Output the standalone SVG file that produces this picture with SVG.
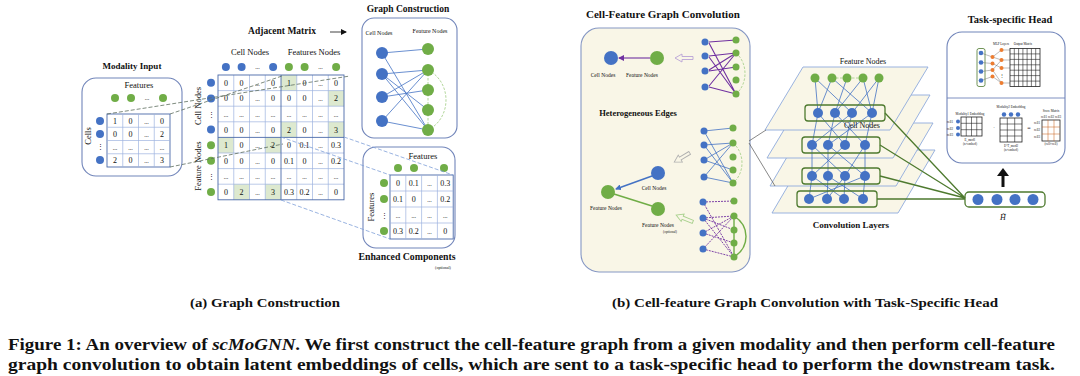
<svg xmlns="http://www.w3.org/2000/svg" width="1080" height="376" viewBox="0 0 1080 376">
<style>
text{font-family:"Liberation Serif","DejaVu Serif",serif;fill:#111}
.b{font-weight:bold}
.bn{fill:#4472c4}
.gn{fill:#70ad47}
.on{fill:#ed7d31}
.box{fill:#fff;stroke:#7185ba;stroke-width:1.1}
.cream{fill:#f9f6e7;stroke:#8597c4;stroke-width:1.1}
.grid{stroke:#4a69a8;stroke-width:0.9;fill:none}
.gridl{stroke:#9db3e0;stroke-width:0.7;fill:none}
.hl{fill:#dde9cf}
.num{font-size:8px;text-anchor:middle}
.dsh{stroke:#5e6e60;stroke-width:0.8;stroke-dasharray:4 2;fill:none}
.dshb{stroke:#7f9fd8;stroke-width:0.8;stroke-dasharray:4 2;fill:none}
.be{stroke:#4472c4;stroke-width:0.8;fill:none}
.pe{stroke:#7030a0;stroke-width:1.1;fill:none}
.pd{stroke:#7030a0;stroke-width:0.9;stroke-dasharray:2 1;fill:none}
.ga{stroke:#a9d18e;stroke-width:0.9;stroke-dasharray:2.5 1.5;fill:none}
.plane{fill:#f9f6e7;stroke:#8faadc;stroke-width:0.9}
.gbox{fill:none;stroke:#4e7a2f;stroke-width:1.3}
.gl{stroke:#4e7a2f;stroke-width:1.3;fill:none}
.tiny{font-size:3.2px}
</style>
<defs>
<marker id="ap" markerWidth="6" markerHeight="6" refX="5" refY="3" orient="auto" markerUnits="userSpaceOnUse"><path d="M0,0 L6,3 L0,6 Z" fill="#7030a0"/></marker>
<marker id="ab" markerWidth="6" markerHeight="6" refX="5" refY="3" orient="auto" markerUnits="userSpaceOnUse"><path d="M0,0 L6,3 L0,6 Z" fill="#4472c4"/></marker>
<marker id="ak" markerWidth="6" markerHeight="6" refX="5" refY="3" orient="auto" markerUnits="userSpaceOnUse"><path d="M0,0 L6,3 L0,6 Z" fill="#111"/></marker>
</defs>
<rect width="1080" height="376" fill="#fff"/>

<!-- Modality input -->
<g id="modality-input">
<text class="b" x="132" y="69" font-size="9" text-anchor="middle">Modality Input</text>
<rect class="box" x="82" y="78" width="100" height="98" rx="14"/>
<text x="139" y="88" font-size="8.5" text-anchor="middle">Features</text>
<circle class="gn" cx="115" cy="98" r="4"/><circle class="gn" cx="131" cy="98" r="4"/><circle class="gn" cx="163" cy="98" r="4"/>
<text x="147" y="100" font-size="6" text-anchor="middle">...</text>
<circle class="bn" cx="100" cy="121" r="4"/><circle class="bn" cx="100" cy="134" r="4"/><circle class="bn" cx="100" cy="160" r="4"/>
<text x="100" y="149" font-size="7" text-anchor="middle">⋮</text>
<text transform="translate(91,136) rotate(-90)" font-size="8.5" text-anchor="middle">Cells</text>
<rect class="grid" x="107" y="114" width="63" height="53"/>
<path class="gridl" d="M122.75,114V167M138.5,114V167M154.25,114V167M107,127.25H170M107,140.5H170M107,153.75H170"/>
<g class="num">
<text y="123.6"><tspan x="114.9">1</tspan><tspan x="130.6">0</tspan><tspan x="146.4" font-size="6">...</tspan><tspan x="162.1">0</tspan></text>
<text y="136.9"><tspan x="114.9">0</tspan><tspan x="130.6">0</tspan><tspan x="146.4" font-size="6">...</tspan><tspan x="162.1">2</tspan></text>
<text y="149.5" font-size="6"><tspan x="114.9">...</tspan><tspan x="130.6">...</tspan><tspan x="146.4">...</tspan><tspan x="162.1">...</tspan></text>
<text y="163.4"><tspan x="114.9">2</tspan><tspan x="130.6">0</tspan><tspan x="146.4" font-size="6">...</tspan><tspan x="162.1">3</tspan></text>
</g>
</g>

<!-- Adjacency matrix -->
<g id="adjacent-matrix">
<text class="b" x="282" y="34" font-size="9.5" text-anchor="middle">Adjacent Matrix</text>
<text x="250" y="55" font-size="8.5" text-anchor="middle">Cell Nodes</text>
<text x="314" y="55" font-size="8.5" text-anchor="middle">Features Nodes</text>
<circle class="bn" cx="225.9" cy="67" r="4"/><circle class="bn" cx="241.6" cy="67" r="4"/><circle class="bn" cx="273.1" cy="67" r="4"/>
<circle class="gn" cx="288.9" cy="67" r="4"/><circle class="gn" cx="304.6" cy="67" r="4"/><circle class="gn" cx="336.1" cy="67" r="4"/>
<text x="257.4" y="69" font-size="6" text-anchor="middle">...</text><text x="320.4" y="69" font-size="6" text-anchor="middle">...</text>
<circle class="bn" cx="211" cy="82.8" r="4"/><circle class="bn" cx="211" cy="98.4" r="4"/><circle class="bn" cx="211" cy="129.6" r="4"/>
<circle class="gn" cx="211" cy="145.2" r="4"/><circle class="gn" cx="211" cy="160.8" r="4"/><circle class="gn" cx="211" cy="192" r="4"/>
<text x="211" y="117" font-size="7" text-anchor="middle">⋮</text><text x="211" y="179" font-size="7" text-anchor="middle">⋮</text>
<text transform="translate(201,106) rotate(-90)" font-size="8.5" text-anchor="middle">Cell Nodes</text>
<text transform="translate(201,166) rotate(-90)" font-size="8.5" text-anchor="middle">Feature Nodes</text>
<rect class="hl" x="281" y="75" width="15.75" height="15.6"/>
<rect class="hl" x="328.25" y="90.6" width="15.75" height="15.6"/>
<rect class="hl" x="281" y="121.8" width="15.75" height="15.6"/>
<rect class="hl" x="328.25" y="121.8" width="15.75" height="15.6"/>
<rect class="hl" x="218" y="137.4" width="15.75" height="15.6"/>
<rect class="hl" x="265.25" y="137.4" width="15.75" height="15.6"/>
<rect class="hl" x="233.75" y="184.2" width="15.75" height="15.6"/>
<rect class="hl" x="265.25" y="184.2" width="15.75" height="15.6"/>
<path class="gridl" d="M233.75,75V199.8M249.5,75V199.8M265.25,75V199.8M296.75,75V199.8M312.5,75V199.8M328.25,75V199.8M218,90.6H344M218,106.2H344M218,121.8H344M218,153H344M218,168.6H344M218,184.2H344"/>
<rect class="grid" x="218" y="75" width="126" height="124.8"/>
<path class="grid" d="M281,75V199.8M218,137.4H344" stroke-width="1.2"/>
<g class="num">
<text y="85.8"><tspan x="225.9">0</tspan><tspan x="241.6">0</tspan><tspan x="257.4" font-size="6">...</tspan><tspan x="273.1">0</tspan><tspan x="288.9">1</tspan><tspan x="304.6">0</tspan><tspan x="320.4" font-size="6">...</tspan><tspan x="336.1">0</tspan></text>
<text y="101.4"><tspan x="225.9">0</tspan><tspan x="241.6">0</tspan><tspan x="257.4" font-size="6">...</tspan><tspan x="273.1">0</tspan><tspan x="288.9">0</tspan><tspan x="304.6">0</tspan><tspan x="320.4" font-size="6">...</tspan><tspan x="336.1">2</tspan></text>
<text y="117" font-size="6"><tspan x="225.9">...</tspan><tspan x="241.6">...</tspan><tspan x="257.4">...</tspan><tspan x="273.1">...</tspan><tspan x="288.9">...</tspan><tspan x="304.6">...</tspan><tspan x="320.4">...</tspan><tspan x="336.1">...</tspan></text>
<text y="132.6"><tspan x="225.9">0</tspan><tspan x="241.6">0</tspan><tspan x="257.4" font-size="6">...</tspan><tspan x="273.1">0</tspan><tspan x="288.9">2</tspan><tspan x="304.6">0</tspan><tspan x="320.4" font-size="6">...</tspan><tspan x="336.1">3</tspan></text>
<text y="148.2"><tspan x="225.9">1</tspan><tspan x="241.6">0</tspan><tspan x="257.4" font-size="6">...</tspan><tspan x="273.1">2</tspan><tspan x="288.9">0</tspan><tspan x="304.6">0.1</tspan><tspan x="320.4" font-size="6">...</tspan><tspan x="336.1">0.3</tspan></text>
<text y="163.8"><tspan x="225.9">0</tspan><tspan x="241.6">0</tspan><tspan x="257.4" font-size="6">...</tspan><tspan x="273.1">0</tspan><tspan x="288.9">0.1</tspan><tspan x="304.6">0</tspan><tspan x="320.4" font-size="6">...</tspan><tspan x="336.1">0.2</tspan></text>
<text y="179.4" font-size="6"><tspan x="225.9">...</tspan><tspan x="241.6">...</tspan><tspan x="257.4">...</tspan><tspan x="273.1">...</tspan><tspan x="288.9">...</tspan><tspan x="304.6">...</tspan><tspan x="320.4">...</tspan><tspan x="336.1">...</tspan></text>
<text y="195"><tspan x="225.9">0</tspan><tspan x="241.6">2</tspan><tspan x="257.4" font-size="6">...</tspan><tspan x="273.1">3</tspan><tspan x="288.9">0.3</tspan><tspan x="304.6">0.2</tspan><tspan x="320.4" font-size="6">...</tspan><tspan x="336.1">0</tspan></text>
</g>
</g>

<!-- Graph construction -->
<g id="graph-construction">
<text class="b" x="408" y="12" font-size="9.5" text-anchor="middle">Graph Construction</text>
<rect class="box" x="362" y="18" width="95" height="120" rx="12"/>
<text x="379" y="35" font-size="6" text-anchor="middle">Cell Nodes</text>
<text x="430" y="33" font-size="6" text-anchor="middle">Feature Nodes</text>
<path class="be" d="M382,53L428,49M382,53L428,130M382,74L428,70M382,74L428,130M382,97L428,70M382,97L428,90M382,121L428,70M382,121L428,130M382,74L428,110"/>
<path class="ga" d="M428,70V130M428,70C452,82 452,118 428,130"/>
<circle class="bn" cx="382" cy="53" r="6"/><circle class="bn" cx="382" cy="74" r="6"/><circle class="bn" cx="382" cy="97" r="6"/><circle class="bn" cx="382" cy="121" r="6"/>
<circle class="gn" cx="428" cy="49" r="6"/><circle class="gn" cx="428" cy="70" r="6"/><circle class="gn" cx="428" cy="90" r="6"/><circle class="gn" cx="428" cy="110" r="6"/><circle class="gn" cx="428" cy="130" r="6"/>
</g>

<!-- Enhanced components -->
<g id="enhanced-components">
<rect class="box" x="363" y="147" width="92" height="101" rx="13"/>
<text x="423" y="159" font-size="8.5" text-anchor="middle">Features</text>
<circle class="gn" cx="398" cy="168" r="4"/><circle class="gn" cx="414" cy="168" r="4"/><circle class="gn" cx="444" cy="168" r="4"/>
<circle class="gn" cx="384" cy="183" r="4"/><circle class="gn" cx="384" cy="199" r="4"/><circle class="gn" cx="384" cy="231" r="4"/>
<text x="384" y="218" font-size="7" text-anchor="middle">⋮</text>
<text transform="translate(374,207) rotate(-90)" font-size="8.5" text-anchor="middle">Features</text>
<rect class="grid" x="390" y="175" width="63.2" height="64"/>
<path class="gridl" d="M405.8,175V239M421.6,175V239M437.4,175V239M390,191H453.2M390,207H453.2M390,223H453.2"/>
<g class="num">
<text y="186"><tspan x="397.9">0</tspan><tspan x="413.7">0.1</tspan><tspan x="429.5" font-size="6">...</tspan><tspan x="445.3">0.3</tspan></text>
<text y="202"><tspan x="397.9">0.1</tspan><tspan x="413.7">0</tspan><tspan x="429.5" font-size="6">...</tspan><tspan x="445.3">0.2</tspan></text>
<text y="218" font-size="6"><tspan x="397.9">...</tspan><tspan x="413.7">...</tspan><tspan x="429.5">...</tspan><tspan x="445.3">...</tspan></text>
<text y="234"><tspan x="397.9">0.3</tspan><tspan x="413.7">0.2</tspan><tspan x="429.5" font-size="6">...</tspan><tspan x="445.3">0</tspan></text>
</g>
<text class="b" x="407" y="260" font-size="9.8" text-anchor="middle">Enhanced Components</text>
<text x="443" y="269" font-size="4" text-anchor="middle">(optional)</text>
</g>

<!-- Cell-feature graph convolution -->
<g id="cell-feature-conv">
<text class="b" x="586" y="18" font-size="11">Cell-Feature Graph Convolution</text>
<rect class="cream" x="581" y="28" width="169" height="244" rx="18"/>
<line class="pe" x1="650" y1="58" x2="619" y2="58" marker-end="url(#ap)"/>
<circle class="bn" cx="611" cy="58" r="7"/><circle class="gn" cx="657" cy="58" r="7"/>
<text x="603" y="77" font-size="5.5" text-anchor="middle">Cell Nodes</text>
<text x="642" y="77" font-size="5.5" text-anchor="middle">Feature Nodes</text>
<path d="M693,56.5H682V54L675,58L682,62V59.5H693Z" fill="none" stroke="#b9a3d6" stroke-width="0.9"/>
<text class="b" x="638" y="116" font-size="8.5" text-anchor="middle">Heterogeneous Edges</text>
<!-- top subgraph -->
<path class="pe" stroke-width="0.9" d="M736,40L709,42M736,94L709,43M736,53L709,56M736,94L709,57M736,53L709,70M736,67L709,71M736,53L709,86M736,94L709,87"/>
<path class="ga" d="M736,53C748,63 748,84 736,94"/>
<circle class="bn" cx="705" cy="42" r="3.5"/><circle class="bn" cx="705" cy="56" r="3.5"/><circle class="bn" cx="705" cy="71" r="3.5"/><circle class="bn" cx="705" cy="87" r="3.5"/>
<circle class="gn" cx="736" cy="40" r="3.5"/><circle class="gn" cx="736" cy="53" r="3.5"/><circle class="gn" cx="736" cy="67" r="3.5"/><circle class="gn" cx="736" cy="80" r="3.5"/><circle class="gn" cx="736" cy="94" r="3.5"/>
<!-- middle subgraph -->
<path class="be" stroke-width="1" d="M704,131L733,128M704,131L733,183M704,145L733,143M704,145L733,183M704,160L733,143M704,160L733,170M704,177L733,143M704,177L733,183"/>
<path class="ga" d="M733,143C745,153 745,173 733,183"/>
<circle class="bn" cx="704" cy="131" r="3.5"/><circle class="bn" cx="704" cy="145" r="3.5"/><circle class="bn" cx="704" cy="160" r="3.5"/><circle class="bn" cx="704" cy="177" r="3.5"/>
<circle class="gn" cx="733" cy="128" r="3.5"/><circle class="gn" cx="733" cy="143" r="3.5"/><circle class="gn" cx="733" cy="157" r="3.5"/><circle class="gn" cx="733" cy="170" r="3.5"/><circle class="gn" cx="733" cy="183" r="3.5"/>
<path transform="translate(682,157.5) rotate(-31)" d="M9,-1.6H-2V-4L-9,0L-2,4V1.6H9Z" fill="none" stroke="#b0b0b0" stroke-width="0.9"/>
<line x1="652" y1="206" x2="614" y2="194" stroke="#70ad47" stroke-width="1.5"/>
<line x1="652" y1="176" x2="616" y2="189" stroke="#4472c4" stroke-width="1.5" marker-end="url(#ab)"/>
<circle class="bn" cx="658" cy="173" r="7"/><circle class="gn" cx="608" cy="192" r="7"/><circle class="gn" cx="658" cy="209" r="7"/>
<text x="654" y="190" font-size="5.5" text-anchor="middle">Cell Nodes</text>
<text x="606" y="210" font-size="5.5" text-anchor="middle">Feature Nodes</text>
<text x="658" y="227" font-size="5.5" text-anchor="middle">Feature Nodes</text>
<text x="670" y="233" font-size="3.5" text-anchor="middle">(optional)</text>
<path transform="translate(684.5,218.5) rotate(22)" d="M9,-1.6H-2V-4L-9,0L-2,4V1.6H9Z" fill="none" stroke="#a9d18e" stroke-width="0.9"/>
<!-- bottom subgraph -->
<path class="pd" d="M703,202L734,201M703,202L734,257M703,218L734,216M703,218L734,257M703,233L734,216M703,233L734,243M703,249L734,216M703,249L734,257M703,218L734,230"/>
<path d="M734,216V257M734,216C750,226 750,247 734,257" fill="none" stroke="#70ad47" stroke-width="1.4"/>
<circle class="bn" cx="703" cy="202" r="3.5"/><circle class="bn" cx="703" cy="218" r="3.5"/><circle class="bn" cx="703" cy="233" r="3.5"/><circle class="bn" cx="703" cy="249" r="3.5"/>
<circle class="gn" cx="734" cy="201" r="3.5"/><circle class="gn" cx="734" cy="216" r="3.5"/><circle class="gn" cx="734" cy="230" r="3.5"/><circle class="gn" cx="734" cy="243" r="3.5"/><circle class="gn" cx="734" cy="257" r="3.5"/>
</g>

<!-- Convolution layers -->
<g id="convolution-layers">
<text x="863" y="64" font-size="8" text-anchor="middle">Feature Nodes</text>
<polygon class="plane" points="809,150 935,150 898,213 772,213"/>
<polygon class="plane" points="807,123 933,123 896,186 770,186"/>
<polygon class="plane" points="805,95 930,95 893,158 767,158"/>
<polygon class="plane" points="803,67 928,67 890,130 765,130"/>
<path class="be" stroke-width="0.6" d="M815,78L818,113M815,78L852,113M832,78L818,113M832,78L872,113M847,78L835,113M863,78L835,113M863,78L872,113M879,78L852,113M879,78L872,113
M818,113L812,145M818,113L845,145M835,113L828,145M835,113L865,145M852,113L812,145M852,113L845,145M872,113L828,145M872,113L865,145
M812,145L812,176M812,145L845,176M828,145L828,176M828,145L865,176M845,145L812,176M865,145L845,176M865,145L865,176
M812,176L809,199M812,176L844,199M828,176L827,199M828,176L863,199M845,176L827,199M845,176L844,199M865,176L809,199M865,176L863,199"/>
<path class="ga" d="M832,78H863"/>
<circle class="gn" cx="815" cy="78" r="4.5"/><circle class="gn" cx="832" cy="78" r="4.5"/><circle class="gn" cx="847" cy="78" r="4.5"/><circle class="gn" cx="863" cy="78" r="4.5"/><circle class="gn" cx="879" cy="78" r="4.5"/>
<rect class="gbox" x="805" y="105" width="80" height="16" rx="3"/>
<circle class="bn" cx="818" cy="113" r="5"/><circle class="bn" cx="835" cy="113" r="5"/><circle class="bn" cx="852" cy="113" r="5"/><circle class="bn" cx="872" cy="113" r="5"/>
<text x="862" y="128" font-size="8" text-anchor="middle">Cell Nodes</text>
<rect class="gbox" x="802" y="137" width="78" height="16" rx="3"/>
<circle class="bn" cx="812" cy="145" r="5"/><circle class="bn" cx="828" cy="145" r="5"/><circle class="bn" cx="845" cy="145" r="5"/><circle class="bn" cx="865" cy="145" r="5"/>
<rect class="gbox" x="802" y="168" width="78" height="16" rx="3"/>
<circle class="bn" cx="812" cy="176" r="5"/><circle class="bn" cx="828" cy="176" r="5"/><circle class="bn" cx="845" cy="176" r="5"/><circle class="bn" cx="865" cy="176" r="5"/>
<rect class="gbox" x="797" y="191" width="80" height="16" rx="3"/>
<circle class="bn" cx="809" cy="199" r="5"/><circle class="bn" cx="827" cy="199" r="5"/><circle class="bn" cx="844" cy="199" r="5"/><circle class="bn" cx="863" cy="199" r="5"/>
<text class="b" x="851" y="228" font-size="9" text-anchor="middle">Convolution Layers</text>
</g>

<!-- H tilde -->
<g id="h-tilde">
<rect class="gbox" x="965" y="192" width="80" height="15" rx="4"/>
<circle class="bn" cx="978" cy="199.5" r="5.5"/><circle class="bn" cx="997" cy="199.5" r="5.5"/><circle class="bn" cx="1015" cy="199.5" r="5.5"/><circle class="bn" cx="1033" cy="199.5" r="5.5"/>
<text x="1003" y="220" font-size="8" text-anchor="middle" font-style="italic">H̃</text>
</g>

<!-- Task-specific head -->
<g id="task-head">
<text class="b" x="1010" y="23" font-size="10.5" text-anchor="middle">Task-specific Head</text>
<rect class="box" x="947" y="32" width="118" height="131" rx="15"/>
<line x1="947" y1="98" x2="1065" y2="98" stroke="#7185ba" stroke-width="0.9"/>
<text class="tiny" x="1001" y="45" text-anchor="middle">MLP Layers</text>
<text class="tiny" x="1023" y="45" text-anchor="middle">Output Matrix</text>
<rect x="977" y="48.5" width="8" height="38" rx="2" fill="none" stroke="#4e7a2f" stroke-width="0.8"/>
<path stroke="#555" stroke-width="0.4" fill="none" d="M981,53L992.5,57M981,62.5L992.5,63.5M981,71.5L992.5,70M981,80.5L992.5,76.5M992.5,57L1001.5,50M992.5,57L1001.5,60M992.5,63.5L1001.5,68M992.5,70L1001.5,60M992.5,76.5L1001.5,83M992.5,70L1001.5,83M1001.5,50H1010M1001.5,60H1010M1001.5,68H1010M1001.5,83H1010"/>
<circle class="bn" cx="981" cy="53" r="2.3"/><circle class="bn" cx="981" cy="62.5" r="2.3"/><circle class="bn" cx="981" cy="71.5" r="2.3"/><circle class="bn" cx="981" cy="80.5" r="2.3"/>
<circle class="on" cx="992.5" cy="57" r="2"/><circle class="on" cx="992.5" cy="63.5" r="2"/><circle class="on" cx="992.5" cy="70" r="2"/><circle class="on" cx="992.5" cy="76.5" r="2"/>
<circle class="on" cx="1001.5" cy="50" r="2"/><circle class="on" cx="1001.5" cy="60" r="2"/><circle class="on" cx="1001.5" cy="68" r="2"/><circle class="on" cx="1001.5" cy="83" r="2"/>
<text x="1001.5" y="77" font-size="4" text-anchor="middle">⋮</text>
<rect x="1010" y="48.5" width="30" height="38" fill="none" stroke="#222" stroke-width="0.8"/>
<path stroke="#222" stroke-width="0.6" fill="none" d="M1014.3,48.5V86.5M1018.6,48.5V86.5M1022.9,48.5V86.5M1027.1,48.5V86.5M1031.4,48.5V86.5M1035.7,48.5V86.5M1010,53.9H1040M1010,59.4H1040M1010,64.8H1040M1010,70.2H1040M1010,75.6H1040M1010,81.1H1040"/>
<text class="tiny" x="970" y="115" text-anchor="middle">Modality1 Embedding</text>
<text class="tiny" x="950" y="123" text-anchor="middle">cell1</text><text class="tiny" x="950" y="129.5" text-anchor="middle">cell2</text><text class="tiny" x="950" y="136" text-anchor="middle">cell3</text>
<circle class="bn" cx="958" cy="121.5" r="2"/><circle class="bn" cx="958" cy="128" r="2"/><circle class="bn" cx="958" cy="134.5" r="2"/>
<rect x="961" y="117" width="21" height="19" fill="none" stroke="#222" stroke-width="0.8"/>
<path stroke="#222" stroke-width="0.6" fill="none" d="M966.25,117V136M971.5,117V136M976.75,117V136M961,123.3H982M961,129.7H982"/>
<text class="tiny" x="970" y="141" text-anchor="middle">E_mod1</text>
<text class="tiny" x="970" y="145" text-anchor="middle">(n×embed)</text>
<text x="994" y="129" font-size="5" text-anchor="middle">·</text>
<text class="tiny" x="1011" y="108" text-anchor="middle">Modality2 Embedding</text>
<circle class="bn" cx="1004" cy="114.5" r="2.2"/><circle class="bn" cx="1011" cy="114.5" r="2.2"/><circle class="bn" cx="1018" cy="114.5" r="2.2"/>
<rect x="1000" y="118" width="22" height="24" fill="none" stroke="#222" stroke-width="0.8"/>
<path stroke="#222" stroke-width="0.6" fill="none" d="M1007.3,118V142M1014.7,118V142M1000,124H1022M1000,130H1022M1000,136H1022"/>
<text class="tiny" x="1011" y="147" text-anchor="middle">E^T_mod2</text>
<text class="tiny" x="1011" y="151" text-anchor="middle">(n×embed)</text>
<text x="1029" y="130" font-size="6" text-anchor="middle">=</text>
<text class="tiny" x="1051" y="112" text-anchor="middle">Score Matrix</text>
<text class="tiny" x="1051" y="118" text-anchor="middle">cell1 cell2 cell3</text>
<text class="tiny" x="1037" y="124" text-anchor="middle">cell1</text><text class="tiny" x="1037" y="131" text-anchor="middle">cell2</text><text class="tiny" x="1037" y="138" text-anchor="middle">cell3</text>
<rect x="1042" y="120" width="18" height="21" fill="none" stroke="#222" stroke-width="0.8"/>
<path stroke="#c55a11" stroke-width="0.5" fill="none" d="M1048,120V141M1054,120V141M1042,127H1060M1042,134H1060"/>
<text class="tiny" x="1051" y="145" text-anchor="middle">(cell×cell)</text>
</g>

<!-- connectors -->
<g id="connectors">
<path class="dsh" d="M107,114L350,76M170,114L282,76M170,167L283,144"/>
<path class="dshb" d="M344,137L453,175M281,137L390,175M281,200L390,239"/>
<line x1="330" y1="32" x2="346" y2="32" stroke="#111" stroke-width="0.8" marker-end="url(#ak)"/>
<path d="M749,141L766,130M749,143L775,186" stroke="#555" stroke-width="0.7" fill="none"/>
<path class="gl" d="M885,113L965,198M880,145L965,198M880,176L965,198M877,199L965,199"/>
<line x1="1003" y1="187" x2="1003" y2="175" stroke="#111" stroke-width="3"/>
<path d="M997,176L1003,168L1009,176Z" fill="#111"/>
</g>

<!-- captions -->
<g id="captions">
<text x="190" y="307" font-size="12.5" font-weight="bold" textLength="150" lengthAdjust="spacingAndGlyphs">(a) Graph Construction</text>
<text x="612" y="307" font-size="12.5" font-weight="bold" textLength="386" lengthAdjust="spacingAndGlyphs">(b) Cell-feature Graph Convolution with Task-Specific Head</text>
<text x="8" y="349.5" font-size="16" font-weight="bold" textLength="1047" lengthAdjust="spacingAndGlyphs">Figure 1: An overview of <tspan font-style="italic">scMoGNN</tspan>. We first construct the cell-feature graph from a given modality and then perform cell-feature</text>
<text x="8" y="369.5" font-size="16" font-weight="bold" textLength="1047" lengthAdjust="spacingAndGlyphs">graph convolution to obtain latent embeddings of cells, which are sent to a task-specific head to perform the downstream task.</text>
</g>
</svg>
